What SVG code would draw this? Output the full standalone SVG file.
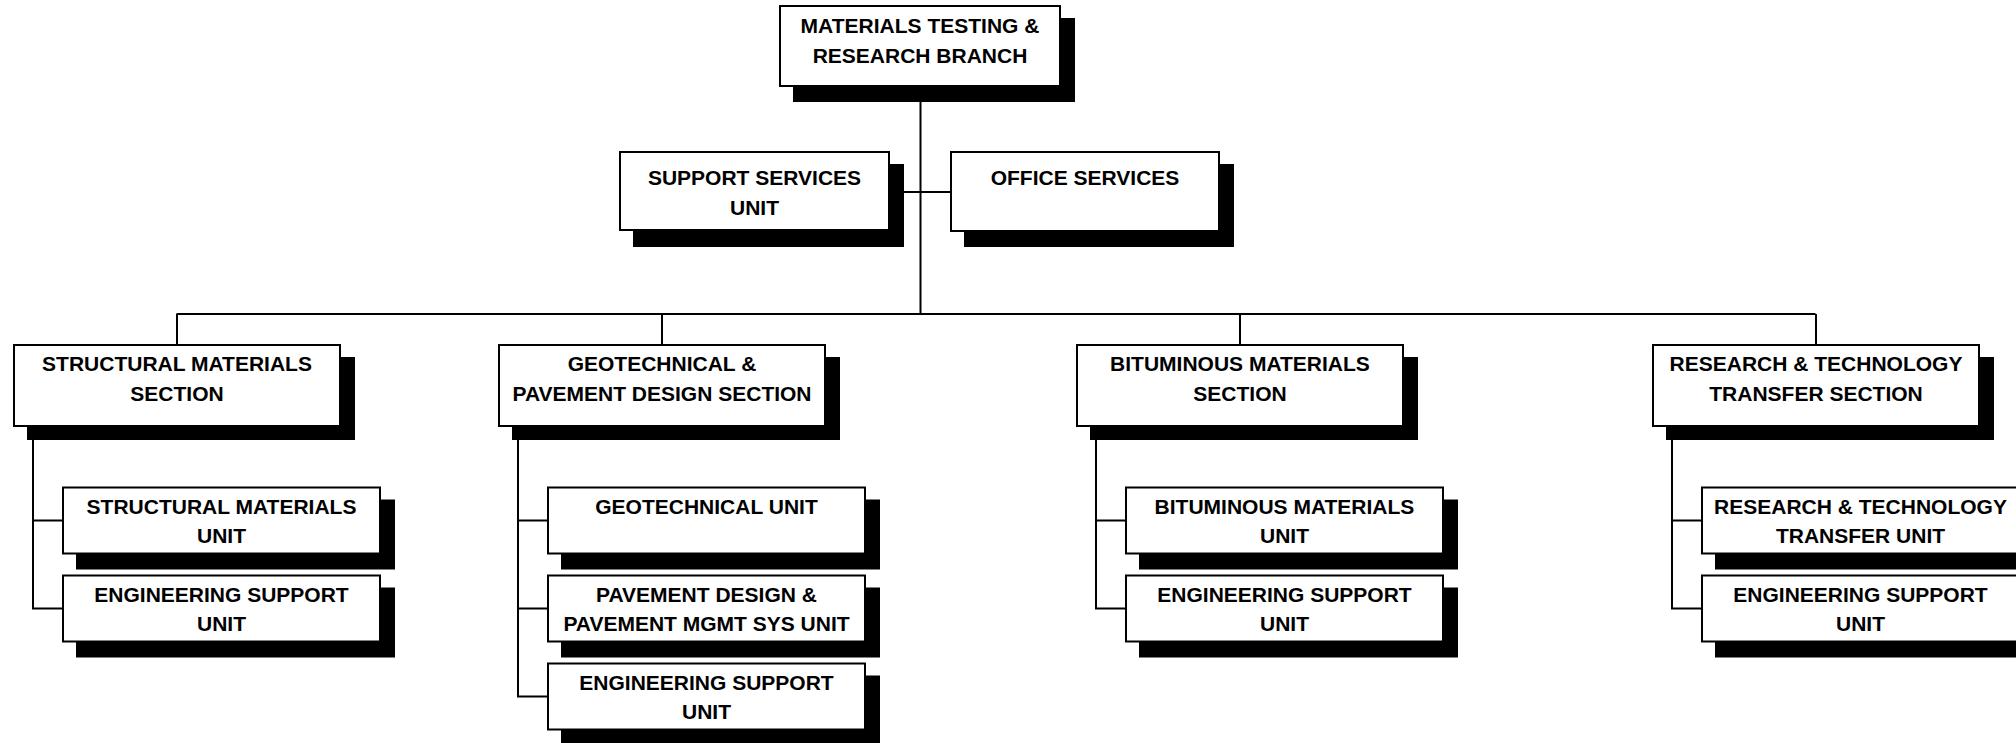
<svg xmlns="http://www.w3.org/2000/svg" width="2016" height="743" viewBox="0 0 2016 743">
<style>
.box{fill:#fff;stroke:#000;stroke-width:2}
.sh{fill:#000}
.t{font-family:"Liberation Sans",Arial,sans-serif;font-weight:bold;font-size:21px;fill:#000;text-anchor:middle}
.c{fill:none;stroke:#000;stroke-width:2}
</style>
<rect width="2016" height="743" fill="#fff"/>
<g id="connectors">
<path class="c" d="M920.5 86V314M889 192H951M176.5 314H1815.5M177 314V345M662 314V345M1240 314V345M1816 314V345"/>
<path class="c" d="M33 426V608.5H63M33 520.5H63"/>
<path class="c" d="M518 426V696.5H548M518 520.5H548M518 608.5H548"/>
<path class="c" d="M1096 426V608.5H1126M1096 520.5H1126"/>
<path class="c" d="M1672 426V608.5H1702M1672 520.5H1702"/>
</g>
<g id="n-top">
<rect class="sh" x="793" y="18" width="282" height="84"/>
<rect class="box" x="780" y="6" width="280" height="80"/>
<text class="t" x="920" y="33">MATERIALS TESTING &amp;</text>
<text class="t" x="920" y="63">RESEARCH BRANCH</text>
</g>
<g id="n-support">
<rect class="sh" x="633" y="164" width="271" height="83"/>
<rect class="box" x="620" y="152" width="269" height="78"/>
<text class="t" x="754.5" y="185">SUPPORT SERVICES</text>
<text class="t" x="754.5" y="215">UNIT</text>
</g>
<g id="n-office">
<rect class="sh" x="964" y="164" width="270" height="83"/>
<rect class="box" x="951" y="152" width="268" height="79"/>
<text class="t" x="1085" y="185">OFFICE SERVICES</text>
</g>
<g id="n-structural">
<rect class="sh" x="27" y="357" width="328" height="83"/>
<rect class="box" x="14" y="345" width="326" height="81"/>
<text class="t" x="177" y="371">STRUCTURAL MATERIALS</text>
<text class="t" x="177" y="401">SECTION</text>
</g>
<g id="n-structural-unit">
<rect class="sh" x="76" y="499.5" width="319" height="70"/>
<rect class="box" x="63" y="487.5" width="317" height="66"/>
<text class="t" x="221.5" y="513.5">STRUCTURAL MATERIALS</text>
<text class="t" x="221.5" y="543">UNIT</text>
</g>
<g id="n-structural-eng">
<rect class="sh" x="76" y="587.5" width="319" height="70"/>
<rect class="box" x="63" y="575.5" width="317" height="66"/>
<text class="t" x="221.5" y="601.5">ENGINEERING SUPPORT</text>
<text class="t" x="221.5" y="631">UNIT</text>
</g>
<g id="n-geo">
<rect class="sh" x="512" y="357" width="328" height="83"/>
<rect class="box" x="499" y="345" width="326" height="81"/>
<text class="t" x="662" y="371">GEOTECHNICAL &amp;</text>
<text class="t" x="662" y="401">PAVEMENT DESIGN SECTION</text>
</g>
<g id="n-geo-unit">
<rect class="sh" x="561" y="499.5" width="319" height="70"/>
<rect class="box" x="548" y="487.5" width="317" height="66"/>
<text class="t" x="706.5" y="513.5">GEOTECHNICAL UNIT</text>
</g>
<g id="n-pavement-unit">
<rect class="sh" x="561" y="587.5" width="319" height="70"/>
<rect class="box" x="548" y="575.5" width="317" height="66"/>
<text class="t" x="706.5" y="601.5">PAVEMENT DESIGN &amp;</text>
<text class="t" x="706.5" y="631">PAVEMENT MGMT SYS UNIT</text>
</g>
<g id="n-geo-eng">
<rect class="sh" x="561" y="675.5" width="319" height="70"/>
<rect class="box" x="548" y="663.5" width="317" height="66"/>
<text class="t" x="706.5" y="689.5">ENGINEERING SUPPORT</text>
<text class="t" x="706.5" y="719">UNIT</text>
</g>
<g id="n-bit">
<rect class="sh" x="1090" y="357" width="328" height="83"/>
<rect class="box" x="1077" y="345" width="326" height="81"/>
<text class="t" x="1240" y="371">BITUMINOUS MATERIALS</text>
<text class="t" x="1240" y="401">SECTION</text>
</g>
<g id="n-bit-unit">
<rect class="sh" x="1139" y="499.5" width="319" height="70"/>
<rect class="box" x="1126" y="487.5" width="317" height="66"/>
<text class="t" x="1284.5" y="513.5">BITUMINOUS MATERIALS</text>
<text class="t" x="1284.5" y="543">UNIT</text>
</g>
<g id="n-bit-eng">
<rect class="sh" x="1139" y="587.5" width="319" height="70"/>
<rect class="box" x="1126" y="575.5" width="317" height="66"/>
<text class="t" x="1284.5" y="601.5">ENGINEERING SUPPORT</text>
<text class="t" x="1284.5" y="631">UNIT</text>
</g>
<g id="n-research">
<rect class="sh" x="1666" y="357" width="328" height="83"/>
<rect class="box" x="1653" y="345" width="326" height="81"/>
<text class="t" x="1816" y="371">RESEARCH &amp; TECHNOLOGY</text>
<text class="t" x="1816" y="401">TRANSFER SECTION</text>
</g>
<g id="n-research-unit">
<rect class="sh" x="1715" y="499.5" width="319" height="70"/>
<rect class="box" x="1702" y="487.5" width="317" height="66"/>
<text class="t" x="1860.5" y="513.5">RESEARCH &amp; TECHNOLOGY</text>
<text class="t" x="1860.5" y="543">TRANSFER UNIT</text>
</g>
<g id="n-research-eng">
<rect class="sh" x="1715" y="587.5" width="319" height="70"/>
<rect class="box" x="1702" y="575.5" width="317" height="66"/>
<text class="t" x="1860.5" y="601.5">ENGINEERING SUPPORT</text>
<text class="t" x="1860.5" y="631">UNIT</text>
</g>
</svg>
